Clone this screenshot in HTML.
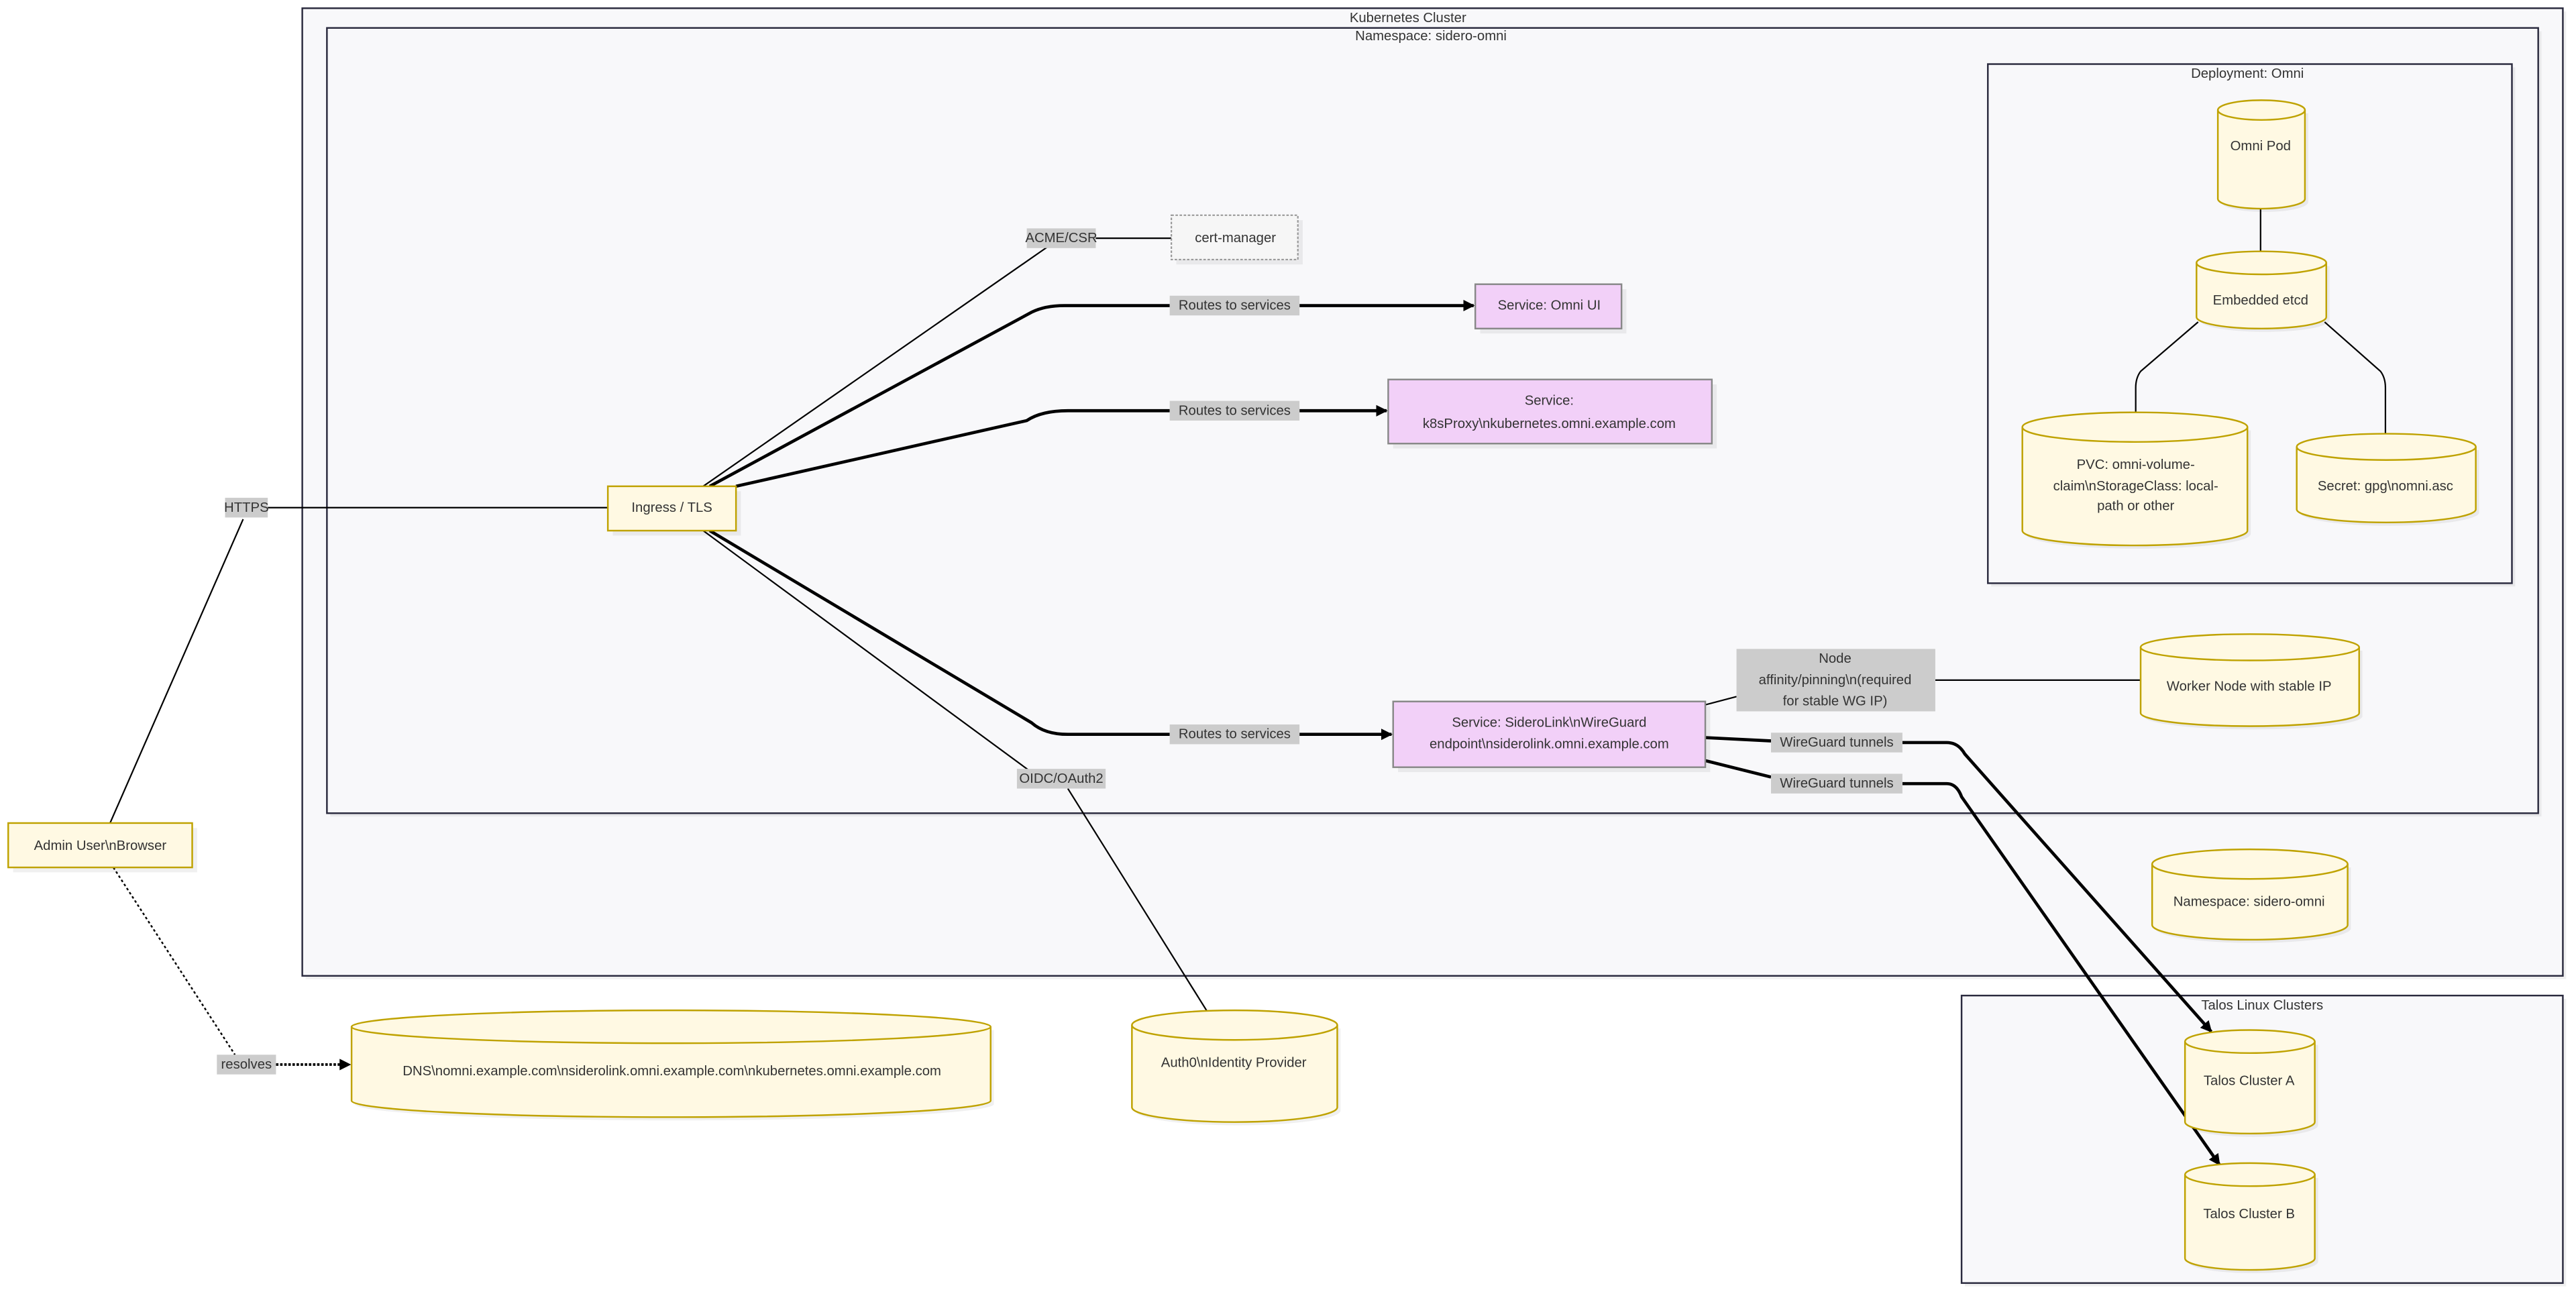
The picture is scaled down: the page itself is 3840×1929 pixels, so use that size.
<!DOCTYPE html>
<html><head><meta charset="utf-8"><style>
html,body{margin:0;padding:0;background:#fff;}
svg{display:block;}
text{font-family:"Liberation Sans",sans-serif;font-size:8.3px;fill:#333;text-anchor:middle;dominant-baseline:central;}
.cl{fill:#f8f8fa;stroke:#2a2a3e;stroke-width:1;}
.sh{fill:#000;opacity:0.06;}
.cy{fill:#fff9e3;stroke:#bfa200;stroke-width:1;}
.cyl{fill:none;stroke:#bfa200;stroke-width:1;}
.sv{fill:#f2d0f8;stroke:#888;stroke-width:1;}
.yb{fill:#fff9e3;stroke:#bfa200;stroke-width:1;}
.lb{fill:#cccccc;}
.e{fill:none;stroke:#000;stroke-width:0.9;}
.t{fill:none;stroke:#000;stroke-width:1.9;}
</style></head><body>
<svg width="3840" height="1929" viewBox="0 0 1568 787.66" xmlns="http://www.w3.org/2000/svg">
<defs>
<marker id="a" viewBox="0 0 10 10" refX="9" refY="5" markerWidth="7" markerHeight="7" markerUnits="userSpaceOnUse" orient="auto"><path d="M0,0 L10,5 L0,10 z" fill="#000"/></marker>
</defs>

<!-- clusters -->
<rect class="sh" x="186" y="7" width="1376" height="589"/>
<rect class="cl" x="184" y="5" width="1376" height="589"/>
<text x="857" y="11">Kubernetes Cluster</text>
<rect class="sh" x="201" y="19" width="1346" height="478"/>
<rect class="cl" x="199" y="17" width="1346" height="478"/>
<text x="871" y="22">Namespace: sidero-omni</text>
<rect class="sh" x="1212" y="41" width="319" height="316"/>
<rect class="cl" x="1210" y="39" width="319" height="316"/>
<text x="1368" y="45">Deployment: Omni</text>
<rect class="sh" x="1196" y="608" width="366" height="175"/>
<rect class="cl" x="1194" y="606" width="366" height="175"/>
<text x="1377" y="612">Talos Linux Clusters</text>

<!-- plain edges -->
<path class="e" d="M1376,127 L1376,153"/>
<path class="e" d="M1338,196 L1303,226 Q1300,230 1300,236 L1300,251"/>
<path class="e" d="M1415,196 L1449,226 Q1452,230 1452,236 L1452,264"/>
<path class="e" d="M428,296 L638,150"/>
<path class="e" d="M667,145 L713,145"/>
<path class="e" d="M67,501 L148,316"/>
<path class="e" d="M163,309 L370,309"/>
<path class="e" d="M428,323 L640,479"/>
<path class="e" d="M650,480 L735,616"/>
<path class="e" d="M1038,429 L1057,424"/>
<path class="e" d="M1178,414 L1303,414"/>
<path d="M69,528 L143,642" fill="none" stroke="#000" stroke-width="1" stroke-dasharray="1.5,1.5"/>
<path d="M168,648 L213,648" fill="none" stroke="#000" stroke-width="1.6" stroke-dasharray="1.5,1" marker-end="url(#a)"/>

<!-- thick edges -->
<path class="t" d="M432,296 L628,190 Q636,186 648,186 L712,186"/>
<path class="t" d="M791,186 L897,186" marker-end="url(#a)"/>
<path class="t" d="M448,296 L625,256 Q634,250 650,250 L712,250"/>
<path class="t" d="M791,250 L844,250" marker-end="url(#a)"/>
<path class="t" d="M432,323 L628,440 Q636,447 650,447 L712,447"/>
<path class="t" d="M791,447 L847,447" marker-end="url(#a)"/>
<path class="t" d="M1038,449 L1078,451"/>
<path class="t" d="M1158,452 L1185,452 Q1192,452 1196,459 L1346,628" marker-end="url(#a)"/>
<path class="t" d="M1038,463 L1078,473"/>
<path class="t" d="M1158,477 L1185,477 Q1191,477 1194,485 L1351,709" marker-end="url(#a)"/>

<!-- rect nodes -->
<rect class="sh" x="716" y="134" width="77" height="27"/>
<rect x="713" y="131" width="77" height="27" fill="#f6f6f6" stroke="#999" stroke-width="0.9" stroke-dasharray="1.5,1"/>
<text x="752" y="145">cert-manager</text>

<rect class="sh" x="901" y="176" width="89" height="27"/>
<rect class="sv" x="898" y="173" width="89" height="27"/>
<text x="943" y="186">Service: Omni UI</text>

<rect class="sh" x="848" y="234" width="197" height="39"/>
<rect class="sv" x="845" y="231" width="197" height="39"/>
<text x="943" y="244">Service:</text>
<text x="943" y="258">k8sProxy\nkubernetes.omni.example.com</text>

<rect class="sh" x="851" y="430" width="190" height="40"/>
<rect class="sv" x="848" y="427" width="190" height="40"/>
<text x="943" y="440">Service: SideroLink\nWireGuard</text>
<text x="943" y="453">endpoint\nsiderolink.omni.example.com</text>

<rect class="sh" x="373" y="299" width="78" height="27"/>
<rect class="yb" x="370" y="296" width="78" height="27"/>
<text x="409" y="309">Ingress / TLS</text>

<rect class="sh" x="8" y="504" width="112" height="27"/>
<rect class="yb" x="5" y="501" width="112" height="27"/>
<text x="61" y="515">Admin User\nBrowser</text>

<!-- cylinders -->
<g>
<path class="sh" d="M1352,69 L1352,123 A26.5,6 0 0 0 1405,123 L1405,69 Z"/>
<path class="cy" d="M1350,67 L1350,121 A26.5,6 0 0 0 1403,121 L1403,67 A26.5,6 0 0 0 1350,67 Z"/>
<path class="cyl" d="M1350,67 A26.5,6 0 0 0 1403,67"/>
<text x="1376" y="89">Omni Pod</text>

<path class="sh" d="M1339,162 L1339,195 A39.5,7 0 0 0 1418,195 L1418,162 Z"/>
<path class="cy" d="M1337,160 L1337,193 A39.5,7 0 0 0 1416,193 L1416,160 A39.5,7 0 0 0 1337,160 Z"/>
<path class="cyl" d="M1337,160 A39.5,7 0 0 0 1416,160"/>
<text x="1376" y="183">Embedded etcd</text>

<path class="sh" d="M1233,262 L1233,325 A68.5,9 0 0 0 1370,325 L1370,262 Z"/>
<path class="cy" d="M1231,260 L1231,323 A68.5,9 0 0 0 1368,323 L1368,260 A68.5,9 0 0 0 1231,260 Z"/>
<path class="cyl" d="M1231,260 A68.5,9 0 0 0 1368,260"/>
<text x="1300" y="283">PVC: omni-volume-</text>
<text x="1300" y="296">claim\nStorageClass: local-</text>
<text x="1300" y="308">path or other</text>

<path class="sh" d="M1400,274 L1400,312 A54.5,8 0 0 0 1509,312 L1509,274 Z"/>
<path class="cy" d="M1398,272 L1398,310 A54.5,8 0 0 0 1507,310 L1507,272 A54.5,8 0 0 0 1398,272 Z"/>
<path class="cyl" d="M1398,272 A54.5,8 0 0 0 1507,272"/>
<text x="1452" y="296">Secret: gpg\nomni.asc</text>

<path class="sh" d="M1305,396 L1305,436 A66.5,8 0 0 0 1438,436 L1438,396 Z"/>
<path class="cy" d="M1303,394 L1303,434 A66.5,8 0 0 0 1436,434 L1436,394 A66.5,8 0 0 0 1303,394 Z"/>
<path class="cyl" d="M1303,394 A66.5,8 0 0 0 1436,394"/>
<text x="1369" y="418">Worker Node with stable IP</text>

<path class="sh" d="M1312,528 L1312,565 A59.5,9 0 0 0 1431,565 L1431,528 Z"/>
<path class="cy" d="M1310,526 L1310,563 A59.5,9 0 0 0 1429,563 L1429,526 A59.5,9 0 0 0 1310,526 Z"/>
<path class="cyl" d="M1310,526 A59.5,9 0 0 0 1429,526"/>
<text x="1369" y="549">Namespace: sidero-omni</text>

<path class="sh" d="M1332,636 L1332,685 A39.5,7 0 0 0 1411,685 L1411,636 Z"/>
<path class="cy" d="M1330,634 L1330,683 A39.5,7 0 0 0 1409,683 L1409,634 A39.5,7 0 0 0 1330,634 Z"/>
<path class="cyl" d="M1330,634 A39.5,7 0 0 0 1409,634"/>
<text x="1369" y="658">Talos Cluster A</text>

<path class="sh" d="M1332,717 L1332,768 A39.5,7 0 0 0 1411,768 L1411,717 Z"/>
<path class="cy" d="M1330,715 L1330,766 A39.5,7 0 0 0 1409,766 L1409,715 A39.5,7 0 0 0 1330,715 Z"/>
<path class="cyl" d="M1330,715 A39.5,7 0 0 0 1409,715"/>
<text x="1369" y="739">Talos Cluster B</text>

<path class="sh" d="M216,627 L216,672 A194.5,10 0 0 0 605,672 L605,627 Z"/>
<path class="cy" d="M214,625 L214,670 A194.5,10 0 0 0 603,670 L603,625 A194.5,10 0 0 0 214,625 Z"/>
<path class="cyl" d="M214,625 A194.5,10 0 0 0 603,625"/>
<text x="409" y="652">DNS\nomni.example.com\nsiderolink.omni.example.com\nkubernetes.omni.example.com</text>

<path class="sh" d="M691,626 L691,676 A62.5,9 0 0 0 816,676 L816,626 Z"/>
<path class="cy" d="M689,624 L689,674 A62.5,9 0 0 0 814,674 L814,624 A62.5,9 0 0 0 689,624 Z"/>
<path class="cyl" d="M689,624 A62.5,9 0 0 0 814,624"/>
<text x="751" y="647">Auth0\nIdentity Provider</text>
</g>

<!-- edge labels -->
<rect class="lb" x="625" y="139" width="42" height="12"/><text x="646" y="145">ACME/CSR</text>
<rect class="lb" x="137" y="303" width="26" height="12"/><text x="150" y="309">HTTPS</text>
<rect class="lb" x="712" y="180" width="79" height="12"/><text x="751.5" y="186">Routes to services</text>
<rect class="lb" x="712" y="244" width="79" height="12"/><text x="751.5" y="250">Routes to services</text>
<rect class="lb" x="712" y="441" width="79" height="12"/><text x="751.5" y="447">Routes to services</text>
<rect class="lb" x="619" y="468" width="54" height="12"/><text x="646" y="474">OIDC/OAuth2</text>
<rect class="lb" x="1057" y="395" width="121" height="38"/>
<text x="1117" y="401">Node</text>
<text x="1117" y="414">affinity/pinning\n(required</text>
<text x="1117" y="427">for stable WG IP)</text>
<rect class="lb" x="1078" y="446" width="80" height="12"/><text x="1118" y="452">WireGuard tunnels</text>
<rect class="lb" x="1078" y="471" width="80" height="12"/><text x="1118" y="477">WireGuard tunnels</text>
<rect class="lb" x="132" y="642" width="36" height="12"/><text x="150" y="648">resolves</text>
</svg>
</body></html>
